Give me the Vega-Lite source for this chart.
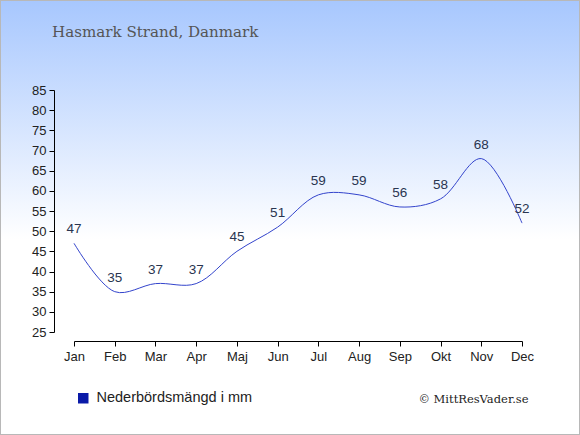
{
  "$schema": "https://vega.github.io/schema/vega-lite/v6.json",
  "width": 580,
  "height": 435,
  "autosize": "none",
  "padding": 0,
  "title": {
    "text": "Hasmark Strand, Danmark",
    "anchor": "start",
    "frame": "group",
    "orient": "top",
    "offset": 0,
    "dx": 52,
    "dy": 52,
    "baseline": "alphabetic",
    "font": "DejaVu Serif",
    "fontSize": 15.1,
    "fontWeight": "normal",
    "color": "#555555"
  },
  "data": {
    "values": [
      {"month": "Jan", "mm": 47},
      {"month": "Feb", "mm": 35},
      {"month": "Mar", "mm": 37},
      {"month": "Apr", "mm": 37},
      {"month": "Maj", "mm": 45},
      {"month": "Jun", "mm": 51},
      {"month": "Jul", "mm": 59},
      {"month": "Aug", "mm": 59},
      {"month": "Sep", "mm": 56},
      {"month": "Okt", "mm": 58},
      {"month": "Nov", "mm": 68},
      {"month": "Dec", "mm": 52}
    ]
  },
  "encoding": {
    "x": {
      "field": "month",
      "type": "ordinal",
      "sort": null,
      "scale": {"type": "point", "range": [74, 522], "padding": 0},
      "axis": {
        "orient": "bottom",
        "offset": -94,
        "labelAngle": 0,
        "labelFont": "Liberation Sans",
        "labelFontSize": 13,
        "labelColor": "#222222",
        "labelPadding": 4,
        "tickSize": 5,
        "tickColor": "#000000",
        "domainColor": "#000000",
        "grid": false,
        "title": "© MittResVader.se",
        "titleFont": "DejaVu Serif",
        "titleFontSize": 11.5,
        "titleFontWeight": "normal",
        "titleColor": "#222222",
        "titleX": 528,
        "titleY": 61,
        "titleAlign": "right",
        "titleBaseline": "alphabetic"
      }
    },
    "y": {
      "field": "mm",
      "type": "quantitative",
      "scale": {"domain": [25, 85], "range": [332, 90], "nice": false, "zero": false},
      "axis": {
        "orient": "left",
        "offset": -54,
        "values": [25, 30, 35, 40, 45, 50, 55, 60, 65, 70, 75, 80, 85],
        "labelFont": "Liberation Sans",
        "labelFontSize": 13,
        "labelColor": "#222222",
        "labelPadding": 3,
        "tickSize": 5,
        "tickColor": "#000000",
        "domainColor": "#000000",
        "grid": false,
        "title": null
      }
    }
  },
  "layer": [
    {
      "mark": {"type": "line", "interpolate": "catmull-rom", "strokeWidth": 1},
      "encoding": {
        "color": {
          "datum": "Nederbördsmängd i mm",
          "type": "nominal",
          "scale": {"range": ["#3344cc"]},
          "legend": {
            "title": null,
            "orient": "none",
            "legendX": 76,
            "legendY": 391,
            "symbolType": "square",
            "symbolSize": 110,
            "labelFont": "Liberation Sans",
            "labelFontSize": 14.5,
            "labelColor": "#222222",
            "labelOffset": 6,
            "encode": {
              "symbols": {
                "update": {
                  "fill": {"value": "#0a1aa8"},
                  "stroke": {"value": "#0a1aa8"},
                  "strokeWidth": {"value": 0}
                }
              }
            }
          }
        }
      }
    },
    {
      "mark": {
        "type": "text",
        "dy": -10,
        "baseline": "alphabetic",
        "font": "Liberation Sans",
        "fontSize": 13.5,
        "color": "#2a3550"
      },
      "encoding": {
        "text": {"field": "mm", "type": "quantitative"}
      }
    }
  ],
  "config": {
    "view": {
      "fill": {
        "gradient": "linear",
        "x1": 0, "y1": 0, "x2": 0, "y2": 1,
        "stops": [
          {"offset": 0, "color": "#a7c7fe"},
          {"offset": 0.55, "color": "#ffffff"},
          {"offset": 1, "color": "#ffffff"}
        ]
      },
      "stroke": "#b8b8b8",
      "strokeWidth": 2
    }
  }
}
